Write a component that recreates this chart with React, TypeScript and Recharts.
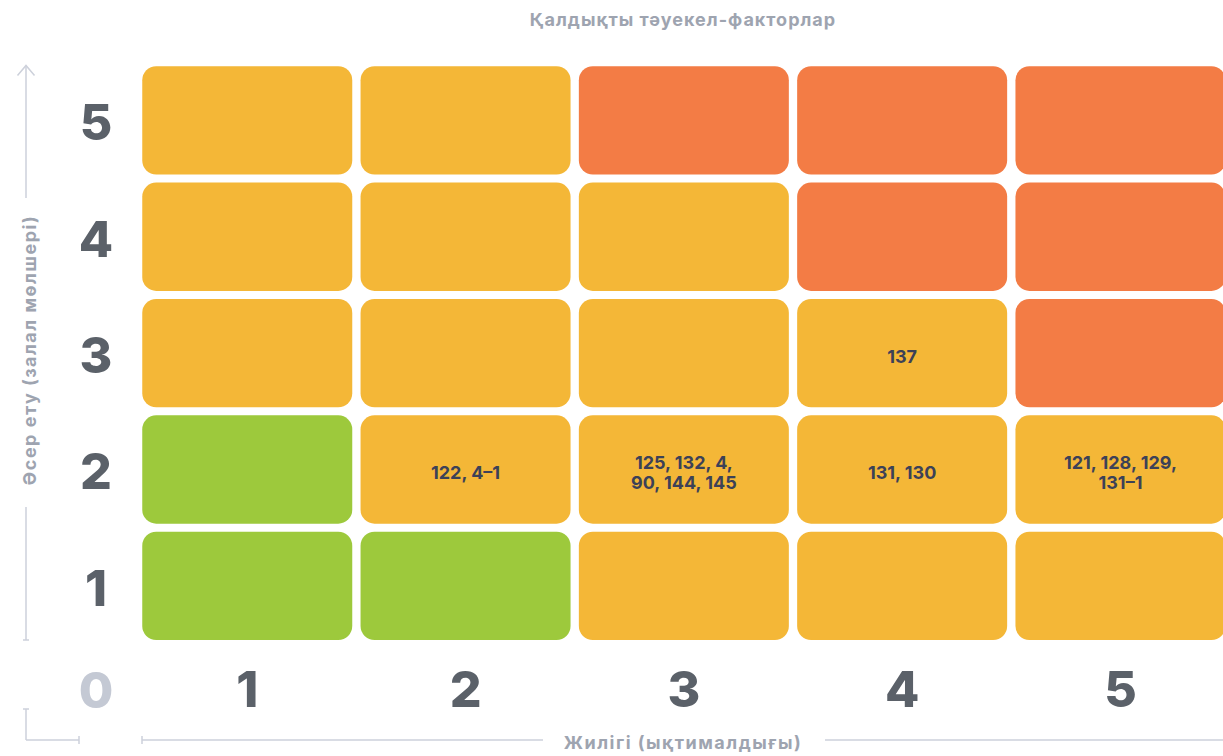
import React from 'react';
import { BarChart, Bar, XAxis, YAxis } from 'recharts';

// Frequency (probability) along the bottom, impact (damage size) up the side
const frequencies = ['1', '2', '3', '4', '5'];
const impactLevels = ['1', '2', '3', '4', '5'];

// Zone of each cell: rows are impact 1..5, columns are frequency 1..5
const zones = [
  ['low', 'low', 'mid', 'mid', 'mid'],
  ['low', 'mid', 'mid', 'mid', 'mid'],
  ['mid', 'mid', 'mid', 'mid', 'high'],
  ['mid', 'mid', 'mid', 'high', 'high'],
  ['mid', 'mid', 'high', 'high', 'high'],
];

// Risk factor numbers written into cells (same layout as zones)
const factorLabels = [
  ['', '', '', '', ''],
  ['', '122, 4–1', '125, 132, 4,\n90, 144, 145', '131, 130', '121, 128, 129,\n131–1'],
  ['', '', '', '137', ''],
  ['', '', '', '', ''],
  ['', '', '', '', ''],
];

// every cell takes one unit of the impact scale
const cellSpan = [1, 1, 1, 1, 1];

const ZONE_COLORS: Record<string, string> = {
  low: '#9dc93c',
  mid: '#f4b737',
  high: '#f37c45',
};

const FONT = 'Inter, "Open Sans", sans-serif';
const LINE = '#cdd1db';
const MUTED = '#9ea4b0';
const DIGIT = '#5b6169';

const data = frequencies.map((f) => {
  const row: Record<string, string | number> = { freq: f };
  impactLevels.forEach((lvl, j) => {
    row['i' + lvl] = cellSpan[j];
  });
  return row;
});

const GAP = 4;

const RiskCell = (props: any) => {
  const { x, y, width, height, index, level } = props;
  const top = Math.min(y, y + height);
  const h = Math.abs(height);
  const zone = zones[level][index];
  const text = factorLabels[level][index];
  const lines = text ? text.split('\n') : [];
  const cx = x + width / 2;
  const cy = top + h / 2 + 3;
  return (
    <g>
      <rect
        x={x + GAP}
        y={top + GAP}
        width={width - GAP * 2}
        height={h - GAP * 2}
        rx={14}
        ry={14}
        fill={ZONE_COLORS[zone]}
      />
      {lines.map((ln: string, k: number) => (
        <text
          key={k}
          x={cx}
          y={cy + (k - (lines.length - 1) / 2) * 20}
          textAnchor="middle"
          dominantBaseline="central"
          fontFamily={FONT}
          fontWeight={700}
          fontSize={18}
          fill="#3c4157"
        >
          {ln}
        </text>
      ))}
    </g>
  );
};

const XTick = (props: any) => {
  const { x, y, payload } = props;
  return (
    <text x={x} y={y + 37} textAnchor="middle" dominantBaseline="central"
      fontFamily={FONT} fontWeight={800} fontSize={50} fill={DIGIT}>
      {payload.value}
    </text>
  );
};

const YTick = (props: any) => {
  const { y, index } = props;
  return (
    <text x={96} y={y + 2} textAnchor="middle" dominantBaseline="central"
      fontFamily={FONT} fontWeight={800} fontSize={50} fill={DIGIT}>
      {impactLevels[index]}
    </text>
  );
};

export default function App() {
  return (
    <div style={{ position: 'relative', width: 1240, height: 756 }}>
      <style>{'body{margin:0;overflow:hidden;background:#fff}'}</style>
      <BarChart
        width={1240}
        height={756}
        data={data}
        margin={{ top: 62.25, right: 10.25, left: 58.25, bottom: 12 }}
        barCategoryGap={0}
        barGap={0}
      >
        <XAxis dataKey="freq" axisLine={false} tickLine={false} height={100} tick={<XTick />} interval={0} />
        <YAxis
          type="number"
          domain={[0, 5]}
          ticks={[0.5, 1.5, 2.5, 3.5, 4.5]}
          axisLine={false}
          tickLine={false}
          width={80}
          tick={<YTick />}
          interval={0}
        />
        {impactLevels.map((lvl, j) => (
          <Bar
            key={lvl}
            dataKey={'i' + lvl}
            stackId="cells"
            isAnimationActive={false}
            shape={(p: any) => <RiskCell {...p} level={j} />}
          />
        ))}
      </BarChart>
      <svg
        width={1240}
        height={756}
        style={{ position: 'absolute', left: 0, top: 0, pointerEvents: 'none' }}
      >
        <text x={683} y={19} textAnchor="middle" dominantBaseline="central"
          fontFamily={FONT} fontWeight={700} fontSize={18} letterSpacing={1} fill={MUTED}>
          Қалдықты тәуекел-факторлар
        </text>

        {/* vertical impact arrow */}
        <g stroke={LINE} strokeWidth={1.5} fill="none">
          <line x1={26} y1={66} x2={26} y2={198} />
          <polyline points="17.5,75.5 26,65.5 34.5,75.5" />
          <line x1={26} y1={507} x2={26} y2={640} />
          <line x1={23} y1={640} x2={29} y2={640} />
          {/* corner bracket */}
          <line x1={26} y1={709} x2={26} y2={740} />
          <line x1={23} y1={709} x2={29} y2={709} />
          <line x1={26} y1={740} x2={79} y2={740} />
          <line x1={79} y1={736} x2={79} y2={744} />
          {/* bottom axis line */}
          <line x1={142} y1={740} x2={543} y2={740} />
          <line x1={142} y1={736} x2={142} y2={744} />
          <line x1={825} y1={740} x2={1240} y2={740} />
        </g>
        <text x={29} y={350} textAnchor="middle" dominantBaseline="central"
          transform="rotate(-90 29 350)"
          fontFamily={FONT} fontWeight={700} fontSize={18} letterSpacing={1.5} fill={MUTED}>
          Әсер ету (залал мөлшері)
        </text>

        <text x={96} y={690} textAnchor="middle" dominantBaseline="central"
          fontFamily={FONT} fontWeight={800} fontSize={50} fill="#c4c9d4">
          0
        </text>
        <text x={683} y={742} textAnchor="middle" dominantBaseline="central"
          fontFamily={FONT} fontWeight={700} fontSize={18} letterSpacing={1.5} fill={MUTED}>
          Жилігі (ықтималдығы)
        </text>
      </svg>
    </div>
  );
}
